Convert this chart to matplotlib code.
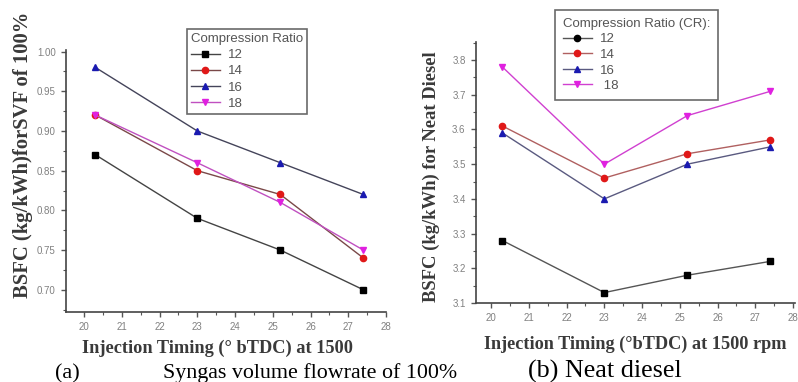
import numpy as np
import matplotlib
matplotlib.use('Agg')
import matplotlib.pyplot as plt
from matplotlib.lines import Line2D
from matplotlib.ticker import MultipleLocator, FormatStrFormatter

# injection timing (deg bTDC) and compression ratios
timing = [20.3, 23.0, 25.2, 27.4]
ratios = ['12', '14', '16', '18']

# (a) BSFC with syngas volume flowrate of 100%
svf_12 = [0.87, 0.79, 0.75, 0.70]
svf_14 = [0.92, 0.85, 0.82, 0.74]
svf_16 = [0.98, 0.90, 0.86, 0.82]
svf_18 = [0.92, 0.86, 0.81, 0.75]

# (b) BSFC with neat diesel
diesel_12 = [3.28, 3.13, 3.18, 3.22]
diesel_14 = [3.61, 3.46, 3.53, 3.57]
diesel_16 = [3.59, 3.40, 3.50, 3.55]
diesel_18 = [3.78, 3.50, 3.64, 3.71]

markers = ['s', 'o', '^', 'v']
mcolors = ['black', '#e01818', '#1a1ab0', '#e020e0']
lcolors_a = ['#444444', '#7a4848', '#44445a', '#c050c0']
lcolors_b = ['#555555', '#b06060', '#5a5a80', '#d040d0']

serif = 'Liberation Serif'
sans = 'Liberation Sans'
tick_col = '#808080'
label_col = '#3a3a3a'

fig = plt.figure(figsize=(7.98, 3.82), dpi=100)
ax1 = fig.add_axes([66 / 798, 1 - 312 / 382, 320 / 798, 262 / 382])
ax2 = fig.add_axes([476 / 798, 1 - 303 / 382, 319 / 798, 261 / 382])


def style_axes(ax):
    for side in ['top', 'right']:
        ax.spines[side].set_visible(False)
    for side in ['left', 'bottom']:
        ax.spines[side].set_color('#444444')
        ax.spines[side].set_linewidth(1.2)
    ax.tick_params(which='major', direction='out', length=3.5, width=1,
                   color='#555555', labelsize=7, labelcolor=tick_col, pad=4)
    ax.tick_params(which='minor', direction='out', length=2, width=0.8,
                   color='#555555')
    for lab in ax.get_xticklabels() + ax.get_yticklabels():
        lab.set_fontfamily(sans)
    ax.xaxis.set_major_locator(MultipleLocator(1))
    ax.xaxis.set_minor_locator(MultipleLocator(0.5))


def style_legend(leg):
    leg.get_title().set_fontfamily(sans)
    leg.get_title().set_fontsize(9.5)
    leg.get_title().set_color('#555555')
    for t in leg.get_texts():
        t.set_color('#555555')
    leg.get_frame().set_edgecolor('#444444')
    leg.get_frame().set_linewidth(1.2)


# ---- panel (a)
series_a = [svf_12, svf_14, svf_16, svf_18]
for vals, m, mc, lc, r in zip(series_a, markers, mcolors, lcolors_a, ratios):
    ax1.plot(timing, vals, color=lc, lw=1, marker=m, markersize=4.5,
             markerfacecolor=mc, markeredgecolor=mc, label=r)
ax1.set_xlim(19.52, 28)
ax1.set_ylim(0.672, 1.002)
ax1.yaxis.set_major_locator(MultipleLocator(0.05))
ax1.yaxis.set_minor_locator(MultipleLocator(0.025))
ax1.yaxis.set_major_formatter(FormatStrFormatter('%.2f'))
style_axes(ax1)
ax1.set_xlabel('Injection Timing (° bTDC) at 1500', fontfamily=serif,
               fontweight='bold', fontsize=13.2, color=label_col)
ax1.xaxis.set_label_coords(0.473, -0.105)
ax1.set_ylabel('BSFC (kg/kWh)forSVF of 100%', fontfamily=serif,
               fontweight='bold', fontsize=14.9, color=label_col)
ax1.yaxis.set_label_coords(-0.103, 0.60)

leg1 = ax1.legend(title='Compression Ratio', loc='upper left',
                  bbox_to_anchor=(187 / 798, 1 - 29 / 382),
                  bbox_transform=fig.transFigure, frameon=True, fancybox=False,
                  prop={'family': sans, 'size': 9.5}, handlelength=2.2,
                  handletextpad=0.6, borderpad=0.3, labelspacing=0.3,
                  borderaxespad=0, alignment='left')
style_legend(leg1)

# ---- panel (b)
series_b = [diesel_12, diesel_14, diesel_16, diesel_18]
for vals, m, mc, lc in zip(series_b, markers, mcolors, lcolors_b):
    ax2.plot(timing, vals, color=lc, lw=1, marker=m, markersize=4.5,
             markerfacecolor=mc, markeredgecolor=mc)
ax2.set_xlim(19.6, 28.05)
ax2.set_ylim(3.1, 3.852)
ax2.yaxis.set_major_locator(MultipleLocator(0.1))
ax2.yaxis.set_minor_locator(MultipleLocator(0.05))
ax2.yaxis.set_major_formatter(FormatStrFormatter('%.1f'))
style_axes(ax2)
ax2.set_xlabel('Injection Timing (°bTDC) at 1500 rpm', fontfamily=serif,
               fontweight='bold', fontsize=13.15, color=label_col)
ax2.xaxis.set_label_coords(0.50, -0.125)
ax2.set_ylabel('BSFC (kg/kWh) for Neat Diesel', fontfamily=serif,
               fontweight='bold', fontsize=13.4, color=label_col)
ax2.yaxis.set_label_coords(-0.113, 0.483)

legend_markers_b = ['o', 'o', '^', 'v']
legend_labels_b = ['12', '14', '16', ' 18']
handles_b = [Line2D([], [], color=lc, lw=1, marker=m, markersize=4.5,
                    markerfacecolor=mc, markeredgecolor=mc)
             for m, mc, lc in zip(legend_markers_b, mcolors, lcolors_b)]
leg2 = ax2.legend(handles_b, legend_labels_b, title='Compression Ratio (CR):',
                  loc='upper left', bbox_to_anchor=(555 / 798, 1 - 10 / 382),
                  bbox_transform=fig.transFigure, frameon=True, fancybox=False,
                  prop={'family': sans, 'size': 9.5}, handlelength=2.2,
                  handletextpad=0.6, borderpad=0.6, labelspacing=0.25,
                  borderaxespad=0, alignment='left')
style_legend(leg2)

# ---- captions
fig.text(55 / 798, 1 - 378 / 382, '(a)', fontfamily=serif, fontsize=16,
         va='baseline', ha='left')
fig.text(163 / 798, 1 - 378 / 382, 'Syngas volume flowrate of 100%',
         fontfamily=serif, fontsize=15.8, va='baseline', ha='left')
fig.text(528 / 798, 1 - 378 / 382, '(b) Neat diesel', fontfamily=serif,
         fontsize=18.8, va='baseline', ha='left')

fig.savefig('out.png', dpi=100)
